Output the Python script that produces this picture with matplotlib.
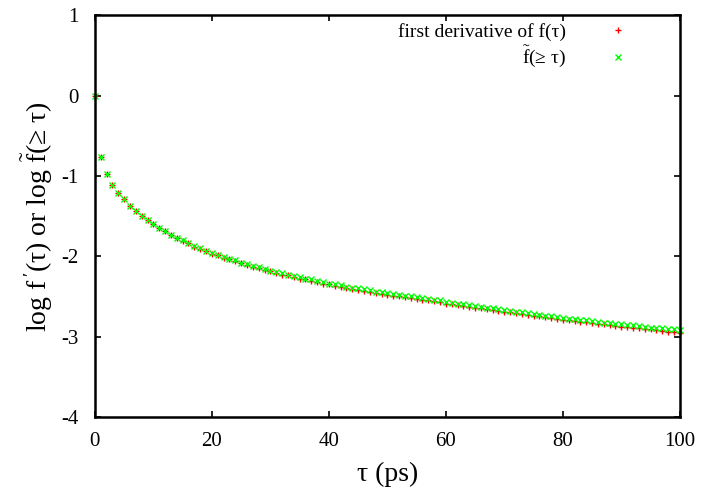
import numpy as np
import matplotlib
matplotlib.use("Agg")
import matplotlib.pyplot as plt

plt.rcParams['font.family'] = ['Liberation Serif', 'DejaVu Serif']
plt.rcParams['mathtext.fontset'] = 'custom'
plt.rcParams['mathtext.rm'] = 'Liberation Serif'
plt.rcParams['mathtext.it'] = 'Liberation Serif:italic'
plt.rcParams['axes.unicode_minus'] = False

# tau in ps, one point per ps
tau = list(range(0, 101))

# log f'(tau)
deriv = [0.00, -0.77, -0.98, -1.11, -1.21, -1.29, -1.37, -1.44, -1.50, -1.55,
         -1.60, -1.65, -1.69, -1.73, -1.77, -1.81, -1.84, -1.88, -1.91, -1.94,
         -1.97, -1.99, -2.02, -2.04, -2.06, -2.09, -2.11, -2.13, -2.15, -2.17,
         -2.19, -2.21, -2.23, -2.24, -2.26, -2.28, -2.29, -2.31, -2.32, -2.34,
         -2.35, -2.37, -2.38, -2.39, -2.41, -2.42, -2.43, -2.44, -2.46, -2.47,
         -2.48, -2.49, -2.50, -2.51, -2.52, -2.53, -2.54, -2.55, -2.56, -2.57,
         -2.59, -2.60, -2.61, -2.62, -2.63, -2.64, -2.65, -2.66, -2.67, -2.68,
         -2.69, -2.70, -2.71, -2.72, -2.73, -2.74, -2.75, -2.76, -2.77, -2.78,
         -2.79, -2.80, -2.81, -2.82, -2.82, -2.83, -2.84, -2.85, -2.86, -2.87,
         -2.88, -2.88, -2.89, -2.90, -2.91, -2.91, -2.92, -2.93, -2.94, -2.94,
         -2.95]

# log f~(>= tau), green crosses, sits a little above the red ones later on
cumul = [0.00, -0.77, -0.98, -1.11, -1.21, -1.29, -1.37, -1.44, -1.50, -1.55,
         -1.60, -1.65, -1.69, -1.73, -1.77, -1.80, -1.83, -1.87, -1.90, -1.93,
         -1.96, -1.98, -2.01, -2.03, -2.05, -2.08, -2.10, -2.12, -2.14, -2.16,
         -2.18, -2.20, -2.21, -2.23, -2.25, -2.26, -2.28, -2.29, -2.31, -2.32,
         -2.34, -2.35, -2.36, -2.38, -2.39, -2.40, -2.41, -2.42, -2.44, -2.45,
         -2.46, -2.47, -2.48, -2.49, -2.50, -2.51, -2.52, -2.53, -2.54, -2.55,
         -2.57, -2.58, -2.59, -2.60, -2.61, -2.62, -2.63, -2.64, -2.65, -2.66,
         -2.67, -2.68, -2.69, -2.70, -2.71, -2.72, -2.73, -2.74, -2.75, -2.76,
         -2.77, -2.78, -2.78, -2.79, -2.80, -2.81, -2.82, -2.83, -2.83, -2.84,
         -2.85, -2.86, -2.86, -2.87, -2.88, -2.89, -2.89, -2.90, -2.91, -2.91,
         -2.92]

xticks = [0, 20, 40, 60, 80, 100]
yticks = [-4, -3, -2, -1, 0, 1]

fig = plt.figure(figsize=(7.03, 4.91), dpi=100)
ax = fig.add_axes([0.135, 0.151, 0.832, 0.818])

ax.plot(tau, deriv, linestyle='none', marker='+', color='#ff0000',
        markersize=5, markeredgewidth=1, clip_on=False,
        label=r'first derivative of f(τ)')
ax.plot(tau, cumul, linestyle='none', marker='x', color='#00ff00',
        markersize=4.5, markeredgewidth=1, clip_on=False,
        label=r'$\tilde{\mathrm{f}}$(≥ τ)')

ax.set_xlim(0, 100)
ax.set_ylim(-4, 1)
ax.set_xticks(xticks)
ax.set_yticks(yticks)
ax.tick_params(direction='in', length=4, width=1.2, top=True, right=True,
               labelsize=15)
ax.tick_params(axis='y', pad=12)
ax.tick_params(axis='x', pad=11)
for s in ax.spines.values():
    s.set_linewidth(1.8)

ax.set_xlabel('τ (ps)', fontsize=20, labelpad=8)
ax.set_ylabel(r"log f$\,'$(τ) or log $\tilde{\mathrm{f}}$(≥ τ)", fontsize=20,
              labelpad=4)

ax.legend(loc='upper right', frameon=False, markerfirst=False, fontsize=14,
          handlelength=1.0, handletextpad=2.2, labelspacing=0.15,
          borderaxespad=0.0, bbox_to_anchor=(0.925, 1.0))

fig.savefig('out.png', dpi=100)
